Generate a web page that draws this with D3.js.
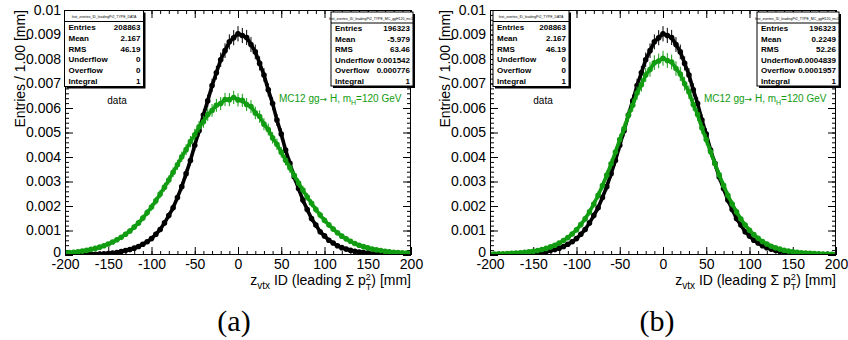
<!DOCTYPE html>
<html><head><meta charset="utf-8">
<script src="https://cdn.jsdelivr.net/npm/d3@7"></script>
<style>body{margin:0;background:#fff}svg{display:block}text{font-family:"Liberation Sans",Arial,Helvetica,sans-serif}</style>
</head><body>
<svg id="c" width="848" height="340"></svg>
<script>
// ---- data (bin centres in mm, normalised entries / 1 mm) ----
const zvtx = [-200,-195,-190,-185,-180,-175,-170,-165,-160,-155,
  -150,-145,-140,-135,-130,-125,-120,-115,-110,-105,
  -100,-95,-90,-85,-80,-75,-70,-65,-60,-55,
  -50,-45,-40,-35,-30,-25,-20,-15,-10,-5,
  0,5,10,15,20,25,30,35,40,45,
  50,55,60,65,70,75,80,85,90,95,
  100,105,110,115,120,125,130,135,140,145,
  150,155,160,165,170,175,180,185,190,195,200];
const dataValues = [0.00001,0.00001,0.00001,0.00002,0.00002,0.00002,0.00003,0.00003,0.00004,0.00005,
  0.00006,0.00008,0.00010,0.00014,0.00018,0.00022,0.00028,0.00035,0.00044,0.00054,
  0.00067,0.00085,0.00104,0.00131,0.00161,0.00193,0.00235,0.00279,0.00332,0.00386,
  0.00448,0.00507,0.00571,0.00629,0.00692,0.00744,0.00797,0.00834,0.00870,0.00887,
  0.00903,0.00896,0.00888,0.00859,0.00829,0.00782,0.00735,0.00674,0.00618,0.00551,
  0.00494,0.00428,0.00374,0.00318,0.00271,0.00224,0.00186,0.00149,0.00122,0.00095,
  0.00078,0.00060,0.00049,0.00038,0.00030,0.00024,0.00019,0.00015,0.00012,0.00010,
  0.00008,0.00006,0.00005,0.00004,0.00003,0.00003,0.00002,0.00002,0.00002,0.00001,0.00001];
const mcValuesA = [0.00009,0.00010,0.00011,0.00013,0.00016,0.00019,0.00023,0.00027,0.00032,0.00038,
  0.00045,0.00053,0.00062,0.00072,0.00085,0.00098,0.00114,0.00131,0.00151,0.00173,
  0.00196,0.00221,0.00249,0.00277,0.00306,0.00338,0.00368,0.00401,0.00430,0.00463,
  0.00491,0.00523,0.00544,0.00573,0.00590,0.00611,0.00618,0.00635,0.00634,0.00643,
  0.00633,0.00631,0.00614,0.00606,0.00580,0.00565,0.00534,0.00512,0.00478,0.00452,
  0.00419,0.00387,0.00356,0.00325,0.00294,0.00265,0.00237,0.00211,0.00186,0.00163,
  0.00142,0.00123,0.00106,0.00091,0.00077,0.00066,0.00056,0.00047,0.00040,0.00034,
  0.00029,0.00024,0.00021,0.00018,0.00015,0.00013,0.00011,0.00010,0.00009,0.00008,0.00007];
const mcValuesB = [0.00004,0.00004,0.00005,0.00005,0.00006,0.00007,0.00008,0.00009,0.00011,0.00013,
  0.00015,0.00018,0.00022,0.00027,0.00033,0.00040,0.00049,0.00059,0.00071,0.00086,
  0.00103,0.00124,0.00148,0.00176,0.00208,0.00244,0.00283,0.00326,0.00372,0.00420,
  0.00471,0.00516,0.00570,0.00611,0.00661,0.00695,0.00735,0.00757,0.00785,0.00792,
  0.00803,0.00794,0.00788,0.00761,0.00739,0.00699,0.00665,0.00614,0.00573,0.00518,
  0.00471,0.00421,0.00373,0.00327,0.00284,0.00244,0.00208,0.00176,0.00147,0.00122,
  0.00101,0.00083,0.00068,0.00055,0.00045,0.00036,0.00029,0.00024,0.00019,0.00016,
  0.00013,0.00011,0.00009,0.00008,0.00007,0.00006,0.00005,0.00004,0.00004,0.00003,0.00003];

const xTicks = [-200,-150,-100,-50,0,50,100,150,200];
const xTickLabels = ["-200","-150","-100","-50","0","50","100","150","200"];
const yTicks = [0,0.001,0.002,0.003,0.004,0.005,0.006,0.007,0.008,0.009,0.01];
const yTickLabels = ["0","0.001","0.002","0.003","0.004","0.005","0.006","0.007","0.008","0.009","0.01"];

const statLabels = ["Entries","Mean","RMS","Underflow","Overflow","Integral"];
const dataStats = ["208863","2.167","46.19","0","0","1"];
const mcStatsA = ["196323","-5.979","63.46","0.001542","0.000776","1"];
const mcStatsB = ["196323","0.2249","52.26","0.0004839","0.0001957","1"];
const dataEntries = 208863, mcEntries = 196323;
const dataTitle = "hist_zvertex_ID_leadingPt2_TYPE_DATA";
const mcTitle = "hist_zvertex_ID_leadingPt2_TYPE_MC_ggH120_mc12";
const tags = ["(a)","(b)"];

// ---- drawing ----
const svg = d3.select("#c");
const GREEN = "#119c11";
const panels = [
  {x0:65, x1:411, mc:mcValuesA, mcStats:mcStatsA, dBox:[64.5,79], mBox:[331,82], dataX:117, mcX:279, tagX:234},
  {x0:490, x1:836, mc:mcValuesB, mcStats:mcStatsB, dBox:[493,76], mBox:[757,82], dataX:543, mcX:704, tagX:657}
];
const yTop = 10, yBot = 255;

panels.forEach((p, pi) => {
  const x = d3.scaleLinear().domain([-200,200]).range([p.x0,p.x1]);
  const y = d3.scaleLinear().domain([0,0.01]).range([yBot,yTop]);
  const g = svg.append("g");
  const clipId = "clip"+pi;
  g.append("clipPath").attr("id",clipId).append("rect")
    .attr("x",p.x0).attr("y",yTop).attr("width",p.x1-p.x0).attr("height",yBot-yTop);

  // axes (inward ticks)
  const xMinor = d3.range(-200,201,10), yMinor = d3.range(0,0.01001,0.0002);
  const fs = "14px";
  const ax = g.append("g").attr("transform",`translate(0,${yBot})`)
    .call(d3.axisBottom(x).tickValues(xTicks).tickSize(-8).tickPadding(4)
      .tickFormat((d,i)=>xTickLabels[i]));
  ax.selectAll("text").style("font-size",fs).attr("fill","#000");
  g.append("g").attr("transform",`translate(0,${yBot})`)
    .call(d3.axisBottom(x).tickValues(xMinor).tickSize(-4).tickFormat(""));
  g.append("g").attr("transform",`translate(0,${yTop})`)
    .call(d3.axisTop(x).tickValues(xTicks).tickSize(-8).tickFormat(""));
  g.append("g").attr("transform",`translate(0,${yTop})`)
    .call(d3.axisTop(x).tickValues(xMinor).tickSize(-4).tickFormat(""));
  const ay = g.append("g").attr("transform",`translate(${p.x0},0)`)
    .call(d3.axisLeft(y).tickValues(yTicks).tickSize(-8).tickPadding(4)
      .tickFormat((d,i)=>yTickLabels[i]));
  ay.selectAll("text").style("font-size",fs).attr("fill","#000");
  ay.selectAll(".tick").filter(d=>d===0).select("text").attr("dy","0.1em");
  g.append("g").attr("transform",`translate(${p.x0},0)`)
    .call(d3.axisLeft(y).tickValues(yMinor).tickSize(-4).tickFormat(""));
  g.append("g").attr("transform",`translate(${p.x1},0)`)
    .call(d3.axisRight(y).tickValues(yTicks).tickSize(-8).tickFormat(""));
  g.append("g").attr("transform",`translate(${p.x1},0)`)
    .call(d3.axisRight(y).tickValues(yMinor).tickSize(-4).tickFormat(""));
  g.selectAll(".domain").remove();
  g.selectAll(".tick line").attr("stroke","#000");

  // series
  const series = [
    {vals:dataValues, col:"#000", n:dataEntries},
    {vals:p.mc, col:GREEN, n:mcEntries}
  ];
  const plot = g.append("g").attr("clip-path",`url(#${clipId})`);
  series.forEach(s => {
    const pts = zvtx.map((z,i)=>({z, v:s.vals[i]}));
    plot.append("path").datum(pts)
      .attr("d", d3.line().x(d=>x(d.z)).y(d=>y(d.v)))
      .attr("fill","none").attr("stroke",s.col).attr("stroke-width",3.6);
    plot.selectAll(null).data(pts).enter().append("line")
      .attr("x1",d=>x(d.z)).attr("x2",d=>x(d.z))
      .attr("y1",d=>y(d.v+Math.sqrt(d.v/s.n)*1.5)).attr("y2",d=>y(d.v-Math.sqrt(d.v/s.n)*1.5))
      .attr("stroke",s.col).attr("stroke-width",1);
    plot.selectAll(null).data(pts).enter().append("circle")
      .attr("cx",d=>x(d.z)).attr("cy",d=>y(d.v)).attr("r",2.8).attr("fill",s.col);
  });

  // frame
  g.append("rect").attr("x",p.x0+0.5).attr("y",yTop+0.5).attr("width",p.x1-p.x0-1).attr("height",yBot-yTop-1)
    .attr("fill","none").attr("stroke","#000").attr("stroke-width",1);

  // stat boxes
  function statBox(bx, by, bw, bh, title, vals){
    const b = g.append("g");
    b.append("rect").attr("x",bx+2).attr("y",by+2).attr("width",bw).attr("height",bh).attr("fill","#000");
    b.append("rect").attr("x",bx).attr("y",by).attr("width",bw).attr("height",bh).attr("fill","#fff")
      .attr("stroke","#000").attr("stroke-width",1);
    b.append("line").attr("x1",bx).attr("x2",bx+bw).attr("y1",by+11).attr("y2",by+11).attr("stroke","#000");
    b.append("text").attr("x",bx+bw/2).attr("y",by+7.5).attr("text-anchor","middle")
      .style("font-size","3.5px").text(title);
    const rh = (bh-11)/6;
    statLabels.forEach((l,i)=>{
      const yy = by+11+(i+0.5)*rh+3;
      b.append("text").attr("x",bx+4).attr("y",yy).style("font-size","8px").style("font-weight","bold").text(l);
      b.append("text").attr("x",bx+bw-3).attr("y",yy).attr("text-anchor","end")
        .style("font-size","8px").style("font-weight","bold").text(vals[i]);
    });
  }
  statBox(p.dBox[0], 10.5, p.dBox[1], 76, dataTitle, dataStats);
  statBox(p.mBox[0], 12, p.mBox[1], 74, mcTitle, p.mcStats);

  // labels
  g.append("text").attr("x",p.dataX).attr("y",104).attr("text-anchor","middle").style("font-size","10px").text("data");
  const ml = g.append("text").attr("x",p.mcX).attr("y",102).attr("fill",GREEN).style("font-size","10px");
  ml.append("tspan").text("MC12 gg");
  ml.append("tspan").style("font-family","'DejaVu Sans',sans-serif").style("font-size","9px").text("\u2192");
  ml.append("tspan").text(" H, m");
  ml.append("tspan").attr("dy",3).style("font-size","7px").text("H");
  ml.append("tspan").attr("dy",-3).text("=120 GeV");

  // x title
  const xt = g.append("text").attr("x",p.x1).attr("y",285).attr("text-anchor","end").style("font-size","14px");
  xt.append("tspan").text("z");
  xt.append("tspan").attr("dy",4).style("font-size","10px").text("vtx");
  xt.append("tspan").attr("dy",-4).text(" ID (leading \u03A3 p");
  xt.append("tspan").attr("dy",-5).style("font-size","9px").text("2");
  xt.append("tspan").attr("dx",-5).attr("dy",10).style("font-size","9px").text("T");
  xt.append("tspan").attr("dy",-5).text(") [mm]");

  // y title
  g.append("text").attr("transform",`translate(${p.x0-40},${yTop}) rotate(-90)`).attr("text-anchor","end")
    .style("font-size","14px").text("Entries / 1.00 [mm]");

  // panel tag
  g.append("text").attr("x",p.tagX).attr("y",331).attr("text-anchor","middle")
    .style("font-family","'Liberation Serif','DejaVu Serif',serif").style("font-size","30px").text(tags[pi]);
});
</script>
</body></html>
